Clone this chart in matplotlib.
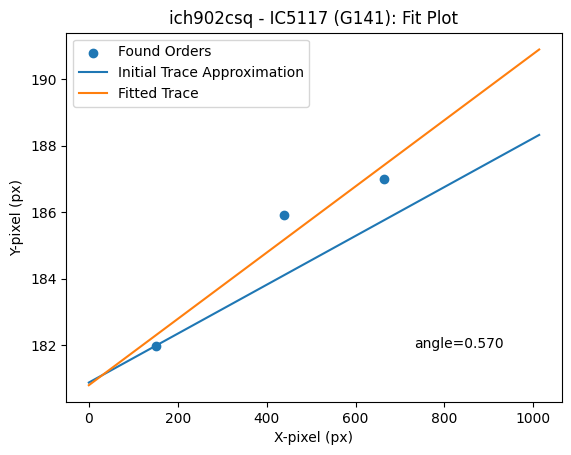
import matplotlib
matplotlib.use("Agg")
import matplotlib.pyplot as plt

# detected order positions
order_x = [151.5, 440.0, 663.0]
order_y = [181.99, 185.93, 187.0]

# trace endpoints (x from 0 to image width)
trace_x = [0, 1013]
initial_trace_y = [180.88, 188.33]
fitted_trace_y = [180.80, 190.90]

angle = 0.570

fig = plt.figure(figsize=(5.71, 4.55), dpi=100)
ax = fig.add_axes([66.3 / 571, 53 / 455, 495.4 / 571, 369.3 / 455])

ax.scatter(order_x, order_y, label='Found Orders')
ax.plot(trace_x, initial_trace_y, label='Initial Trace Approximation')
ax.plot(trace_x, fitted_trace_y, label='Fitted Trace')
ax.text(732, 181.92, 'angle=%.3f' % angle)

ax.set_xlabel('X-pixel (px)')
ax.set_ylabel('Y-pixel (px)')
ax.set_title('ich902csq - IC5117 (G141): Fit Plot')
ax.legend(loc='upper left')

fig.savefig('out.png')
